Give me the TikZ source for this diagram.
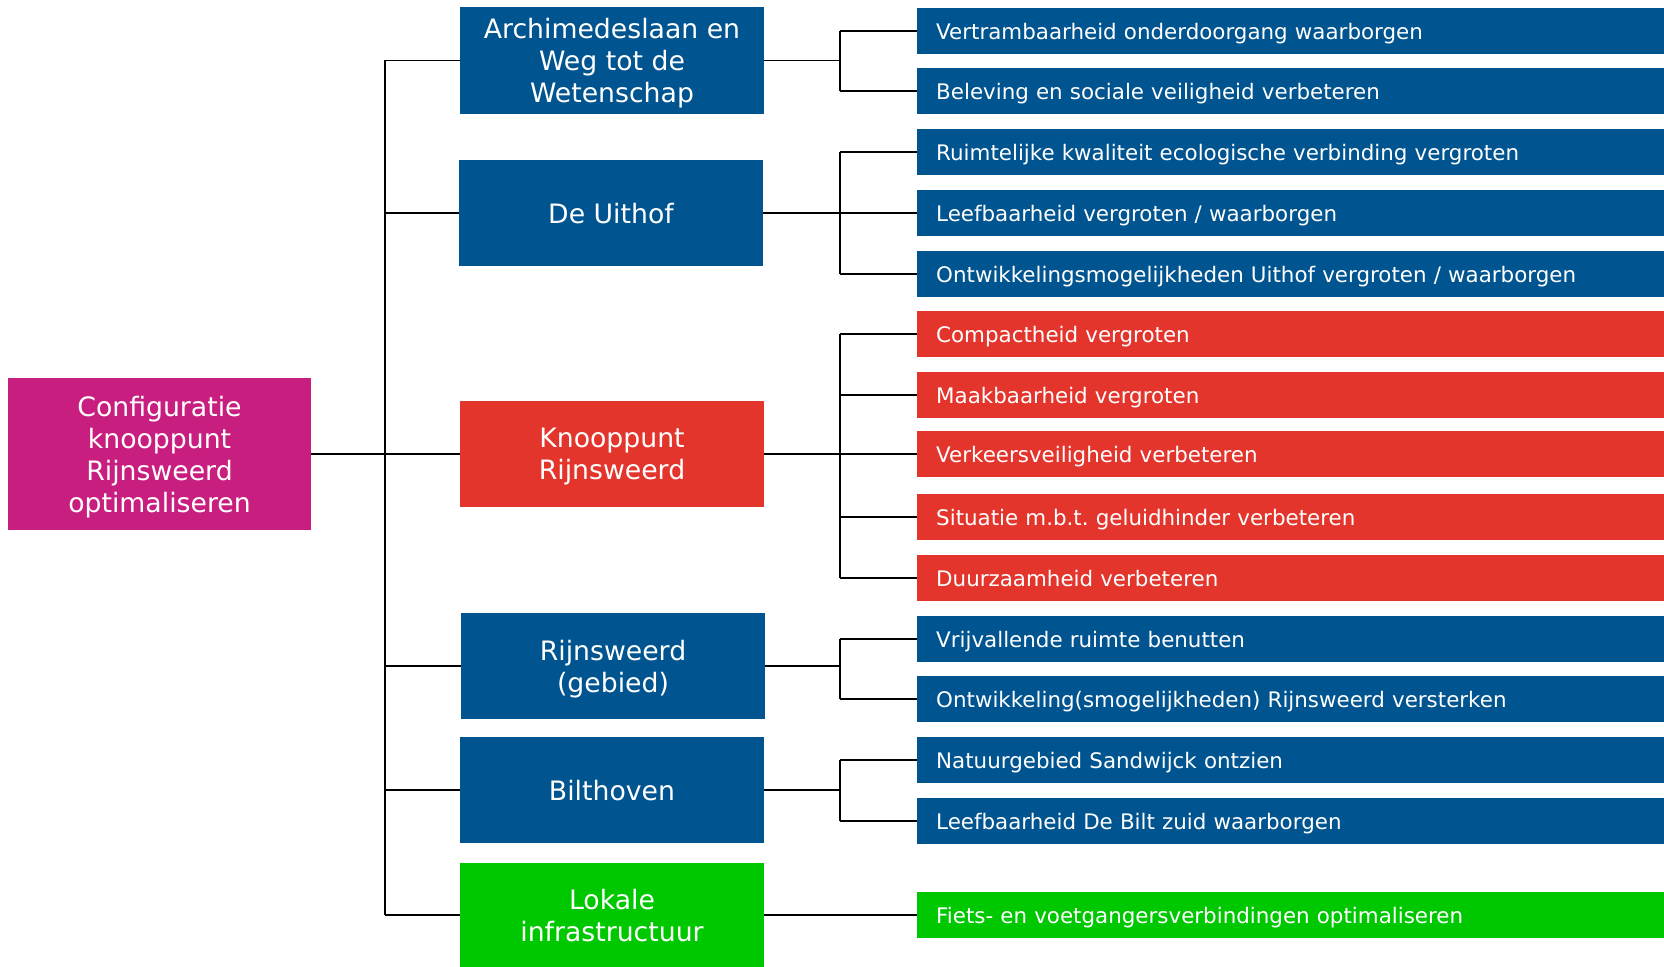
\documentclass[tikz,border=0pt]{standalone}
\usepackage{fontspec}
\setmainfont{DejaVu Sans}
\usepackage{xcolor}
\usepackage{tikz}
\usetikzlibrary{calc}
\frenchspacing
\definecolor{blauw}{HTML}{00548F}
\definecolor{rood}{HTML}{E4352D}
\definecolor{paars}{HTML}{C81E80}
\definecolor{groen}{HTML}{00C800}
\tikzset{
  link/.style={draw=black, line width=1.7pt},
  hoofd/.style={fill=paars, text=white, align=center, minimum width=303pt,
    minimum height=152pt, inner sep=0pt, text depth=0pt,
    font=\fontsize{26.7}{32}\selectfont},
  doel/.style={text=white, align=center, minimum width=304pt,
    minimum height=106pt, inner sep=0pt, text depth=0pt,
    font=\fontsize{26.7}{32}\selectfont},
  sub/.style={text=white, anchor=west, text width=710pt, align=left,
    minimum height=46pt, inner xsep=19pt, inner ysep=0pt, text depth=0pt,
    font=\fontsize{21.4}{24}\selectfont}
}

\begin{document}
\begin{tikzpicture}[x=1pt, y=-1pt]
  \useasboundingbox (0,0) rectangle (1664,966);

  \node[hoofd] (root) at (159.5,454) {Configuratie\\knooppunt\\Rijnsweerd\\optimaliseren};

  \node[doel, fill=blauw] (arch) at (612,60.5) {Archimedeslaan en\\Weg tot de\\Wetenschap};
  \node[doel, fill=blauw] (uit) at (611,213) {De Uithof};
  \node[doel, fill=rood] (knoop) at (612,454) {Knooppunt\\Rijnsweerd};
  \node[doel, fill=blauw] (gebied) at (613,666) {Rijnsweerd\\(gebied)};
  \node[doel, fill=blauw] (bilt) at (612,790) {Bilthoven};
  \node[doel, fill=groen, minimum height=104pt] (lokale) at (612,915) {Lokale\\infrastructuur};

  \node[sub, fill=blauw] (s1) at (917,31) {Vertrambaarheid onderdoorgang waarborgen};
  \node[sub, fill=blauw] (s2) at (917,91) {Beleving en sociale veiligheid verbeteren};
  \node[sub, fill=blauw] (s3) at (917,152) {Ruimtelijke kwaliteit ecologische verbinding vergroten};
  \node[sub, fill=blauw] (s4) at (917,213) {Leefbaarheid vergroten / waarborgen};
  \node[sub, fill=blauw] (s5) at (917,274) {Ontwikkelingsmogelijkheden Uithof vergroten / waarborgen};
  \node[sub, fill=rood] (s6) at (917,334) {Compactheid vergroten};
  \node[sub, fill=rood] (s7) at (917,395) {Maakbaarheid vergroten};
  \node[sub, fill=rood] (s8) at (917,454) {Verkeersveiligheid verbeteren};
  \node[sub, fill=rood] (s9) at (917,517) {Situatie m.b.t. geluidhinder verbeteren};
  \node[sub, fill=rood] (s10) at (917,578) {Duurzaamheid verbeteren};
  \node[sub, fill=blauw] (s11) at (917,639) {Vrijvallende ruimte benutten};
  \node[sub, fill=blauw] (s12) at (917,699) {Ontwikkeling(smogelijkheden) Rijnsweerd versterken};
  \node[sub, fill=blauw] (s13) at (917,760) {Natuurgebied Sandwijck ontzien};
  \node[sub, fill=blauw] (s14) at (917,821) {Leefbaarheid De Bilt zuid waarborgen};
  \node[sub, fill=groen] (s15) at (917,915) {Fiets- en voetgangersverbindingen optimaliseren};

  % stam naar de doelen
  \coordinate (stam) at (385,454);
  \coordinate (tak) at (840,454);
  \draw[link] (root.east) -- (stam);
  \draw[link] (stam |- arch.west) -- (stam |- lokale.west);
  \foreach \d in {arch,uit,knoop,gebied,bilt,lokale}
    \draw[link] (stam |- \d.west) -- (\d.west);

  % takken naar de subdoelen
  \foreach \d/\a/\b in {arch/s1/s2,uit/s3/s5,knoop/s6/s10,gebied/s11/s12,bilt/s13/s14}
    \draw[link] (\d.east) -- (tak |- \d.east) (tak |- \a.west) -- (tak |- \b.west);
  \foreach \s in {s1,s2,s3,s4,s5,s6,s7,s8,s9,s10,s11,s12,s13,s14}
    \draw[link] (tak |- \s.west) -- (\s.west);
  \draw[link] (lokale.east) -- (s15.west);
\end{tikzpicture}
\end{document}
